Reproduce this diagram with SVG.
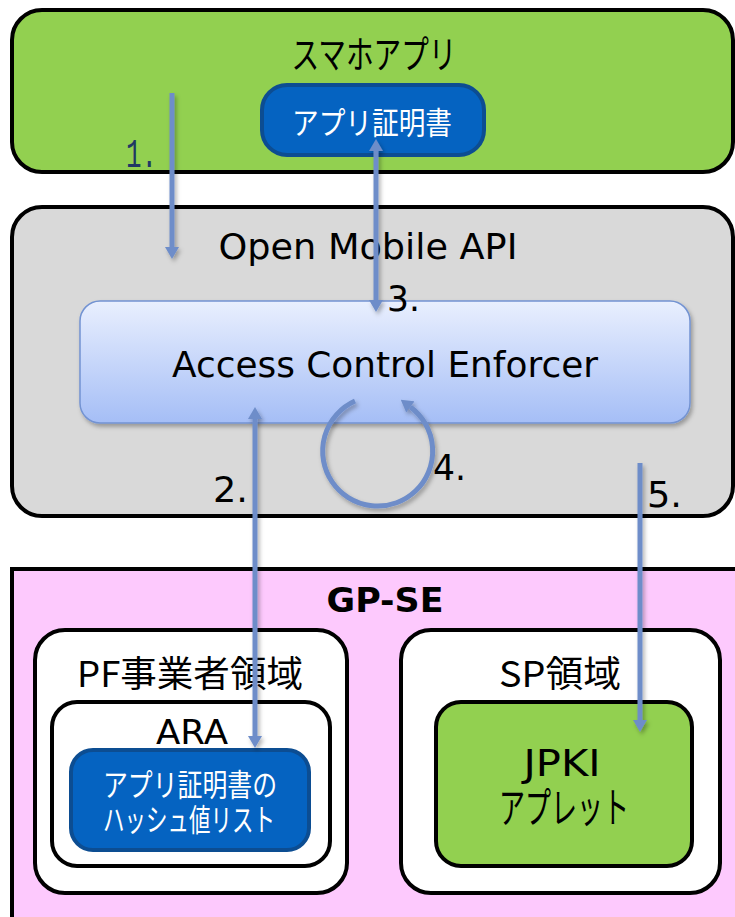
<svg xmlns="http://www.w3.org/2000/svg" width="735" height="917" viewBox="0 0 735 917">
<defs>
<style>
.box{stroke:#000;stroke-width:4}
.lat{font-family:"DejaVu Sans","Liberation Sans",sans-serif;fill:#000}
.jp{font-family:"Noto Sans CJK JP","Noto Sans",sans-serif;fill:#000}
.wt{fill:#fff}
.num{font-family:"DejaVu Sans","Liberation Sans",sans-serif;font-size:36px;fill:#000}
.conn{stroke:#6e8dc9;stroke-width:5;fill:none}
.bluebox{fill:#0563c1;stroke:#0c4d92;stroke-width:4}
</style>
<linearGradient id="aceGrad" x1="0" y1="0" x2="0" y2="1">
<stop offset="0" stop-color="#e9effe"/>
<stop offset="1" stop-color="#a5bef6"/>
</linearGradient>
<filter id="sh" x="-20%" y="-20%" width="140%" height="140%">
<feDropShadow dx="2" dy="3" stdDeviation="2" flood-color="#000" flood-opacity="0.3"/>
</filter>
<marker id="ah" viewBox="0 0 12 14" refX="0" refY="7" markerWidth="12" markerHeight="14" markerUnits="userSpaceOnUse" orient="auto-start-reverse">
<path d="M0,0 L12,7 L0,14 z" fill="#6e8dc9"/>
</marker>
</defs>

<g id="smartphone-app">
<rect class="box" x="12" y="10" width="721" height="162" rx="30" fill="#92d050"/>
<text class="jp" x="374" y="68" font-size="38" text-anchor="middle" textLength="165" lengthAdjust="spacingAndGlyphs">スマホアプリ</text>
</g>
<g id="app-cert">
<rect class="bluebox" x="262" y="85" width="222" height="70" rx="25"/>
<text class="jp wt" x="372" y="134" font-size="31" text-anchor="middle" textLength="160" lengthAdjust="spacingAndGlyphs">アプリ証明書</text>
</g>

<g id="open-mobile-api">
<rect class="box" x="12" y="207" width="721" height="309" rx="30" fill="#d9d9d9"/>
<text class="lat" x="368" y="259" font-size="36" text-anchor="middle" textLength="299" lengthAdjust="spacingAndGlyphs">Open Mobile API</text>
</g>
<g id="ace">
<rect x="80" y="301" width="610" height="122" rx="20" fill="url(#aceGrad)" stroke="#7393d2" stroke-width="1.5" filter="url(#sh)"/>
<text class="lat" x="385" y="377" font-size="35" text-anchor="middle" textLength="426" lengthAdjust="spacingAndGlyphs">Access Control Enforcer</text>
</g>

<g id="gp-se">
<rect class="box" x="12" y="569" width="740" height="360" fill="#fdc9fd"/>
<text class="lat" x="385" y="612" font-size="33" font-weight="bold" text-anchor="middle" textLength="117" lengthAdjust="spacingAndGlyphs">GP-SE</text>
</g>
<g id="pf-area">
<rect class="box" x="35" y="630" width="312" height="263" rx="30" fill="#fff"/>
<text class="jp" x="190" y="687" font-size="36" text-anchor="middle" textLength="226" lengthAdjust="spacingAndGlyphs">PF事業者領域</text>
</g>
<g id="ara">
<rect class="box" x="52" y="702" width="278" height="164" rx="25" fill="#fff"/>
<text class="lat" x="192" y="744" font-size="33" text-anchor="middle" textLength="72" lengthAdjust="spacingAndGlyphs">ARA</text>
</g>
<g id="hash-list">
<rect class="bluebox" x="71" y="750" width="238" height="100" rx="22"/>
<text class="jp wt" x="190" y="796" font-size="31" text-anchor="middle" textLength="174" lengthAdjust="spacingAndGlyphs">アプリ証明書の</text>
<text class="jp wt" x="189" y="831" font-size="31" text-anchor="middle" textLength="172" lengthAdjust="spacingAndGlyphs">ハッシュ値リスト</text>
</g>
<g id="sp-area">
<rect class="box" x="401" y="630" width="319" height="263" rx="30" fill="#fff"/>
<text class="jp" x="560" y="687" font-size="36" text-anchor="middle" textLength="122" lengthAdjust="spacingAndGlyphs">SP領域</text>
</g>
<g id="jpki">
<rect class="box" x="436" y="702" width="256" height="164" rx="25" fill="#92d050"/>
<text class="lat" x="562" y="776" font-size="37" text-anchor="middle" textLength="77" lengthAdjust="spacingAndGlyphs">JPKI</text>
<text class="jp" x="564" y="823" font-size="42" text-anchor="middle" textLength="130" lengthAdjust="spacingAndGlyphs">アプレット</text>
</g>

<g id="connectors" filter="url(#sh)">
<line class="conn" x1="172" y1="93" x2="172" y2="247" marker-end="url(#ah)"/>
<line class="conn" x1="376" y1="151" x2="376" y2="300" marker-start="url(#ah)" marker-end="url(#ah)"/>
<line class="conn" x1="255" y1="419" x2="255" y2="736" marker-start="url(#ah)" marker-end="url(#ah)"/>
<line class="conn" x1="640" y1="463" x2="640" y2="720" marker-end="url(#ah)"/>
<path class="conn" d="M 355 401 A 55 55 0 1 0 410.4 406.9" marker-end="url(#ah)"/>
</g>

<g id="labels">
<text x="126" y="167" font-family="Liberation Mono,DejaVu Sans Mono,monospace" font-size="40" fill="#1f3864" textLength="31" lengthAdjust="spacingAndGlyphs">1.</text>
<text class="num" x="387" y="311" textLength="33" lengthAdjust="spacingAndGlyphs">3.</text>
<text class="num" x="213" y="502" textLength="35" lengthAdjust="spacingAndGlyphs">2.</text>
<text class="num" x="433" y="480" textLength="33" lengthAdjust="spacingAndGlyphs">4.</text>
<text class="num" x="647" y="507" textLength="35" lengthAdjust="spacingAndGlyphs">5.</text>
</g>
</svg>
